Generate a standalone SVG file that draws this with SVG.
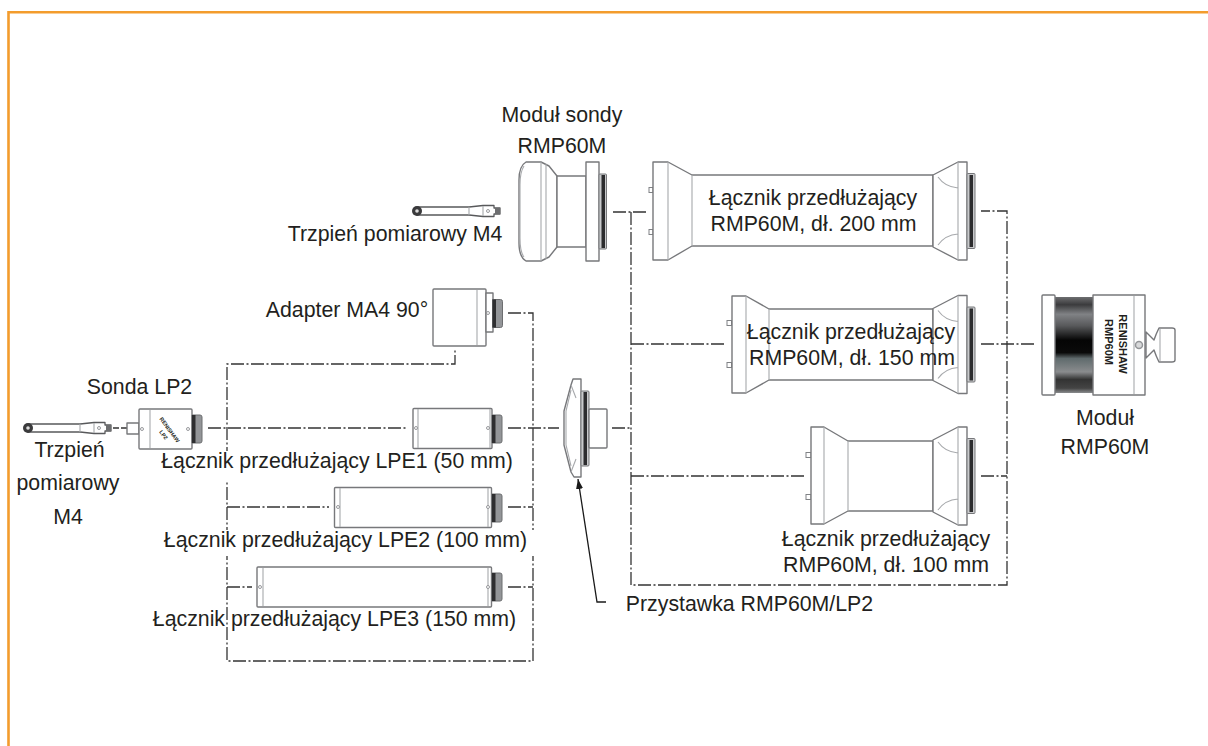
<svg xmlns="http://www.w3.org/2000/svg" width="1208" height="746" viewBox="0 0 1208 746">
<style>
.t{font-family:"Liberation Sans",Arial,sans-serif;font-size:21.300px;fill:#231f20;text-anchor:middle}
.c{fill:none;stroke:#333;stroke-width:1.300;stroke-dasharray:13 2.500 2 2.500}
.o{fill:#fff;stroke:#77787b;stroke-width:1.400;stroke-linejoin:round}
.i{fill:none;stroke:#a7a9ac;stroke-width:1.100}
.g{fill:#939598;stroke:#6d6e70;stroke-width:1}
.h{fill:#fff;stroke:#808285;stroke-width:1}
.m{font-family:"Liberation Sans",Arial,sans-serif;font-weight:700;fill:#231f20;text-anchor:middle}
.p{fill:#fff;stroke:#808285;stroke-width:.8}
</style>
<defs>
<linearGradient id="band" x1="0" y1="0" x2="0" y2="1">
<stop offset="0" stop-color="#6d6e70"/><stop offset=".08" stop-color="#3b3b3d"/><stop offset=".18" stop-color="#808285"/><stop offset=".3" stop-color="#58595b"/><stop offset=".45" stop-color="#050505"/><stop offset=".58" stop-color="#0a0a0a"/><stop offset=".64" stop-color="#5f6a6c"/><stop offset=".78" stop-color="#8a8c8e"/><stop offset=".86" stop-color="#333"/><stop offset=".95" stop-color="#444"/><stop offset="1" stop-color="#8a8c8e"/>
</linearGradient>
<marker id="ah" markerWidth="12" markerHeight="8" refX="10" refY="3.500" orient="auto" markerUnits="userSpaceOnUse"><path d="M0 0L10 3.500L0 7Z" fill="#1a1a1a"/></marker>
<g id="stylus">
<path d="M0 -4H52L66 -5.500H77V-3H83V3H77V5.500H66L52 4H0Z" fill="#fff" stroke="#58595b" stroke-width="1.300" stroke-linejoin="round"/>
<path class="i" d="M52 -4V4M66 -5V5"/>
<path d="M78 -3H83V3H78Z" fill="#6d6e70"/>
<circle cx="71" cy="0" r="1.500" class="p"/>
<circle r="5" fill="#3a3a3c"/><circle r="1.800" fill="#ddd"/>
</g>
<g id="bigRight">
<path class="o" d="M0 -36L25 -49H34V49H25L0 36Z"/>
<path class="i" d="M25 -49V49M5 -34Q12 -24 25 -23M5 34Q12 24 25 23"/>
<rect x="34" y="-37.500" width="8" height="75" rx="1" fill="#c9cacc" stroke="#77787b"/>
<rect x="36.500" y="-36" width="3.500" height="72" fill="#2c2c2e"/>
</g>
<g id="ring">
<path class="g" d="M0 -14H8Q10 -14 10 -12V12Q10 14 8 14H0Z"/>
<path d="M0 -14H3.500V14H0Z" fill="#2e2e30"/>
</g>
</defs>
<rect width="1208" height="746" fill="#fff"/>
<path d="M8.500 746V12.300H1208" fill="none" stroke="#f39c2d" stroke-width="2.600"/>

<g id="connectors">
<path class="c" d="M613 212H648"/>
<path class="c" d="M631 212V585H1007V211H981"/>
<path class="c" d="M631 344H726"/>
<path class="c" d="M981 344H1036"/>
<path class="c" d="M631 476H804"/>
<path class="c" d="M981 476H1007"/>
<path class="c" d="M612 428H631"/>
<path class="c" d="M508 428H559"/>
<path class="c" d="M208 428H408"/>
<path class="c" d="M508 313H533V661H227V364H455V350"/>
<path class="c" d="M227 507H329"/>
<path class="c" d="M508 507H533"/>
<path class="c" d="M227 587H252"/>
<path class="c" d="M508 587H533"/>
<path fill="none" stroke="#333" stroke-width="1.300" d="M113 428H127" stroke-dasharray="6 2"/>
<path fill="none" stroke="#1a1a1a" stroke-width="1.300" d="M606 602H597L578 479" marker-end="url(#ah)"/>
</g>

<rect x="160" y="451" width="260" height="29" fill="#fff"/>
<rect x="163" y="530" width="372" height="26" fill="#fff"/>

<g id="stylus-top"><use href="#stylus" x="417" y="211"/></g>
<g id="stylus-left"><use href="#stylus" x="28" y="428"/></g>

<g id="probe-module">
<path class="o" d="M526 162H541L549 166L557 176V247L549 257L541 261H526Q519 257 519 243V180Q519 166 526 162Z"/>
<rect class="o" x="557" y="176" width="29" height="71"/>
<rect class="o" x="586" y="162" width="13" height="99"/>
<path class="i" d="M541 162V261M546 164V259M524 166Q520 172 520 185V238Q520 252 524 257"/>
<rect x="599" y="174" width="7.500" height="75" rx="1" fill="#c9cacc" stroke="#77787b"/>
<rect x="601.500" y="175" width="3.500" height="73" fill="#2c2c2e"/>
</g>

<g id="ext-200">
<rect class="h" x="649" y="187.500" width="4" height="5"/><rect class="h" x="649" y="229.500" width="4" height="5"/>
<path class="o" d="M653 162H668L692 175H933V246H692L668 260H653Z"/>
<path class="i" d="M668 162V260M692 175V246"/>
<use href="#bigRight" x="933" y="211"/>
</g>

<g id="ext-150">
<rect class="h" x="727" y="320.500" width="4.500" height="5"/><rect class="h" x="727" y="362.500" width="4.500" height="5"/>
<path class="o" d="M732 296H746L769 309H933V380H769L746 393H732Z"/>
<path class="i" d="M746 296V393M769 309V380"/>
<use href="#bigRight" x="933" y="344.500"/>
</g>

<g id="ext-100">
<rect class="h" x="806" y="452.500" width="5" height="5"/><rect class="h" x="806" y="494.500" width="5" height="5"/>
<path class="o" d="M811 427H824L848 441H933V511H848L824 524H811Z"/>
<path class="i" d="M824 427V524M848 441V511"/>
<use href="#bigRight" x="933" y="476"/>
</g>

<g id="module">
<rect x="1055" y="297" width="38" height="96" fill="url(#band)"/>
<rect class="o" x="1042" y="295" width="13" height="100" rx="1"/>
<path class="o" d="M1093 295H1145V395H1093Z"/>
<path class="i" d="M1134 296V394"/>
<circle cx="1139" cy="345" r="3.500" fill="#d8d9da" stroke="#939598" stroke-width="1.500"/>
<path class="o" d="M1146 332L1154 340Q1156 334 1159 328H1172Q1175 328 1175 330V360Q1175 362 1172 362H1159Q1156 356 1154 350L1146 358Z"/>
<path class="i" d="M1160 329V361"/>
<text class="m" transform="translate(1118.500 344) rotate(90)" font-size="11">RENISHAW</text>
<text class="m" transform="translate(1105 342) rotate(90)" font-size="11">RMP60M</text>
</g>

<g id="adapter-ma4">
<rect class="o" x="433" y="289" width="53" height="57" rx="1"/>
<path class="i" d="M477 290V345"/>
<rect class="o" x="486" y="293" width="7" height="39"/>
<circle cx="488" cy="313" r="1.500" class="p"/>
<use href="#ring" x="492.500" y="313.500"/>
</g>

<g id="lp2">
<rect class="o" x="127" y="423" width="12" height="11"/>
<rect class="o" x="139" y="409" width="53" height="40" rx="1"/>
<path class="i" d="M150 410V448"/>
<circle cx="142" cy="429" r="1.500" class="p"/>
<circle cx="188" cy="429" r="1.500" class="p"/>
<use href="#ring" x="192" y="429"/>
<text class="m" transform="translate(168 431) rotate(54)" font-size="5.500">RENISHAW</text>
<text class="m" transform="translate(162 436) rotate(54)" font-size="5.500">LP2</text>
</g>

<g id="lpe1">
<rect class="o" x="413" y="408.500" width="79" height="40" rx="1"/>
<path class="i" d="M418 409V448M490 409V448"/>
<circle cx="416" cy="428" r="1.500" class="p"/>
<circle cx="488" cy="428" r="1.500" class="p"/>
<use href="#ring" x="492" y="429"/>
</g>

<g id="lpe2">
<rect class="o" x="334.500" y="487.500" width="157" height="40" rx="1"/>
<path class="i" d="M340 488V527M488 488V527"/>
<circle cx="338" cy="507" r="1.500" class="p"/>
<circle cx="488" cy="507" r="1.500" class="p"/>
<use href="#ring" x="492" y="508"/>
</g>

<g id="lpe3">
<rect class="o" x="257" y="567" width="234.500" height="40" rx="1"/>
<path class="i" d="M263 568V606M488 568V606"/>
<circle cx="260" cy="587" r="1.500" class="p"/>
<circle cx="488" cy="587" r="1.500" class="p"/>
<use href="#ring" x="492" y="587"/>
</g>

<g id="adapter-lp2">
<path class="o" d="M573 379H581V477H574L571 472L564 445V411L571 385Z"/>
<path class="i" d="M571 390L566 411V445L571 466M571 385L576 398M571 472L576 459"/>
<rect x="581" y="391" width="8" height="75" rx="1" fill="#c9cacc" stroke="#77787b"/>
<rect x="583.500" y="392" width="3.500" height="73" fill="#2c2c2e"/>
<rect class="o" x="589" y="409" width="18" height="39" rx="1"/>
</g>

<g id="labels">
<text class="t" x="562" y="122">Moduł sondy</text>
<text class="t" x="562" y="153">RMP60M</text>
<text class="t" x="395" y="241">Trzpień pomiarowy M4</text>
<text class="t" x="347" y="317">Adapter MA4 90°</text>
<text class="t" x="139.500" y="394">Sonda LP2</text>
<text class="t" x="69.500" y="457">Trzpień</text>
<text class="t" x="68" y="490">pomiarowy</text>
<text class="t" x="68" y="524">M4</text>
<text class="t" x="337" y="468">Łącznik przedłużający LPE1 (50 mm)</text>
<text class="t" x="345.500" y="547">Łącznik przedłużający LPE2 (100 mm)</text>
<text class="t" x="334.500" y="626">Łącznik przedłużający LPE3 (150 mm)</text>
<text class="t" x="813" y="205">Łącznik przedłużający</text>
<text class="t" x="813.500" y="231">RMP60M, dł. 200 mm</text>
<text class="t" x="851" y="339">Łącznik przedłużający</text>
<text class="t" x="852" y="365">RMP60M, dł. 150 mm</text>
<text class="t" x="886" y="546">Łącznik przedłużający</text>
<text class="t" x="886" y="572">RMP60M, dł. 100 mm</text>
<text class="t" x="749.500" y="611">Przystawka RMP60M/LP2</text>
<text class="t" x="1105" y="425">Moduł</text>
<text class="t" x="1105" y="454">RMP60M</text>
</g>
</svg>
